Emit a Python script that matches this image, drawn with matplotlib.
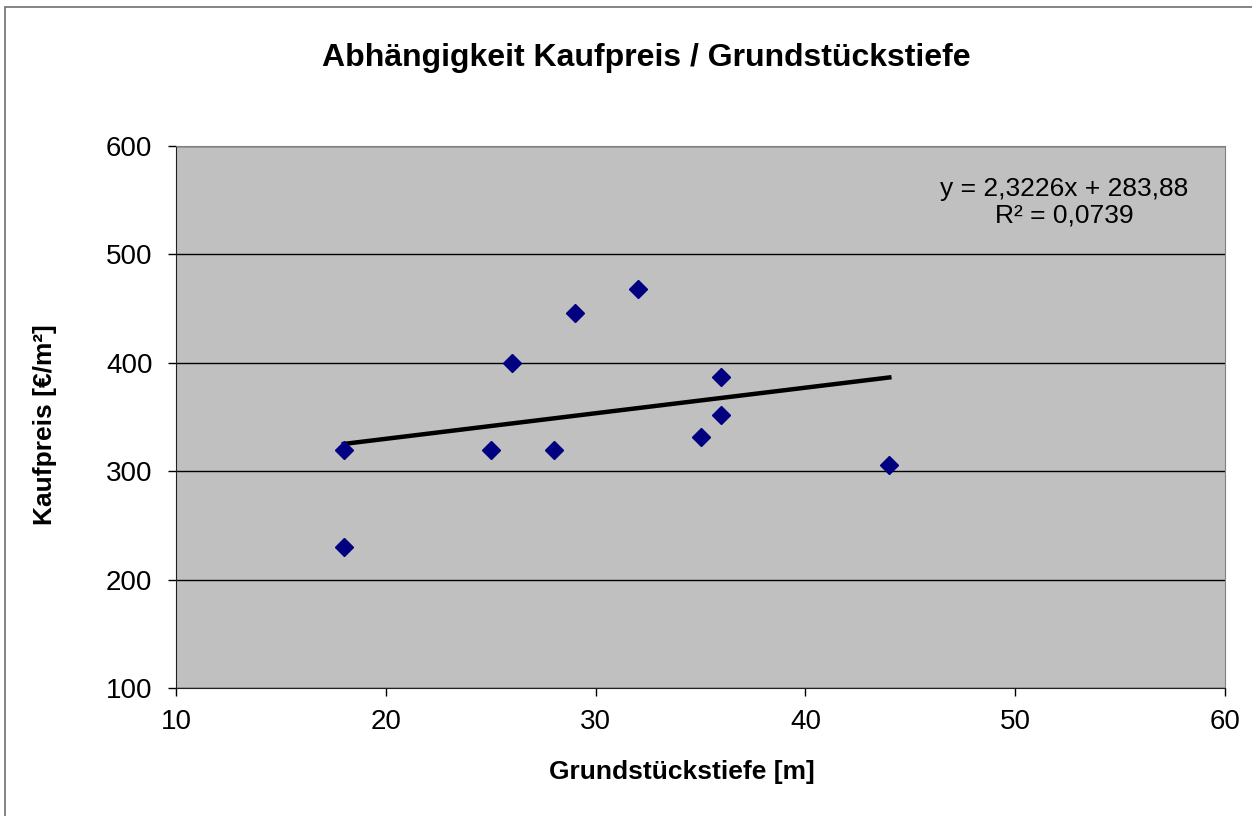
import numpy as np
import matplotlib
matplotlib.use("Agg")
from matplotlib import pyplot as plt
from matplotlib.patches import Rectangle

plt.rcParams['font.family'] = ['Liberation Sans', 'DejaVu Sans']

# data
tiefe = [18, 18, 25, 26, 28, 29, 32, 35, 36, 36, 44]
kaufpreis = [320, 230, 320, 400, 320, 446, 468, 332, 387, 352, 306]
x_ticks = [10, 20, 30, 40, 50, 60]
y_ticks = [100, 200, 300, 400, 500, 600]
eq_text = "y = 2,3226x + 283,88\nR² = 0,0739"

W, H = 1252, 816
fig = plt.figure(figsize=(W / 100, H / 100), dpi=100)
ax = fig.add_axes([176 / W, 1 - 688 / H, (1225 - 176) / W, (688 - 146) / H])

# outer chart border (right and bottom edges fall outside the picture)
fig.patches.append(Rectangle((4.5 / W, -20 / H), 1300 / W, (816 - 6.5 + 20) / H,
                             transform=fig.transFigure, fill=False,
                             edgecolor="#707070", lw=1.2))

ax.set_facecolor("#C0C0C0")
ax.set_xlim(10, 60)
ax.set_ylim(100, 600)
ax.set_xticks(x_ticks)
ax.set_yticks(y_ticks)
ax.yaxis.grid(True, color="black", lw=1)
ax.set_axisbelow(True)

for s in ["top", "right"]:
    ax.spines[s].set_color("#808080")
for s in ["left", "bottom"]:
    ax.spines[s].set_color("#202020")
ax.tick_params(labelsize=20, length=6, width=1, direction="out")
ax.tick_params(axis="y", pad=11)
ax.tick_params(axis="x", pad=9)

# trendline from a linear fit
k, d = np.polyfit(tiefe, kaufpreis, 1)
xs = np.array([min(tiefe), max(tiefe)])
ax.plot(xs, k * xs + d, color="black", lw=3.2, zorder=3)

ax.plot(tiefe, kaufpreis, linestyle="none", marker="D", ms=9.5,
        color="#000080", zorder=4)

ax.text((1064 - 176) / 1049, (688 - 202) / 542, eq_text, transform=ax.transAxes,
        ha="center", va="center", fontsize=19, linespacing=1.15)

fig.text(646 / W, 1 - 58 / H, "Abhängigkeit Kaufpreis / Grundstückstiefe",
         ha="center", va="center", fontsize=23, fontweight="bold")
fig.text(682 / W, 1 - 772 / H, "Grundstückstiefe [m]",
         ha="center", va="center", fontsize=19, fontweight="bold")
fig.text(45 / W, 1 - 425 / H, "Kaufpreis [€/m²]", rotation=90,
         ha="center", va="center", fontsize=19, fontweight="bold")

fig.savefig("out.png", dpi=100)
